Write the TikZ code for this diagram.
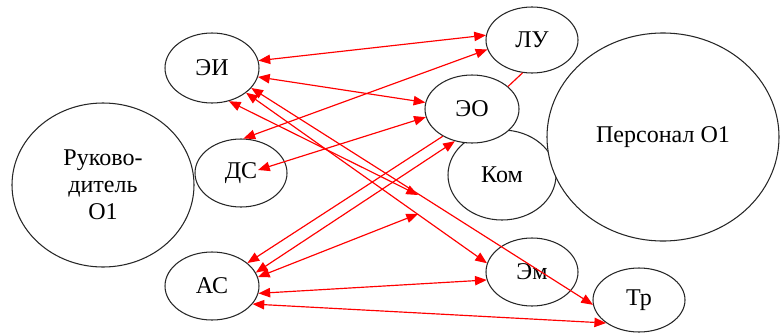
\documentclass[tikz,border=0pt]{standalone}
\usepackage{fontspec}
\setmainfont{LiberationSerif}[Extension=.ttf, UprightFont=*-Regular, BoldFont=*-Bold]
\usepackage{tikz}
\usetikzlibrary{shapes.geometric,arrows.meta}
\definecolor{linkred}{RGB}{255, 0, 0}
\tikzstyle{unit} = [ellipse, draw=black!85, line width=0.9pt, fill=white, inner sep=0pt, text=black, text centered, font=\rmfamily\fontsize{20.5}{23}\selectfont]
\tikzstyle{link} = [color=linkred, line width=1pt, >={Triangle[length=10pt,width=8pt]}, <->]

\begin{document}
\begin{tikzpicture}[x=0.03cm, y=-0.03cm]
\useasboundingbox (0,0) rectangle (784,333);

% units =============================
\node[unit, minimum width=5.46cm, minimum height=4.92cm, align=center] (ruk) at (103,185) {Руково-\\дитель\\О1};
\node[unit, minimum width=2.82cm, minimum height=2.1cm] (ei) at (212,68) {ЭИ};
\node[unit, minimum width=2.76cm, minimum height=2.04cm] (ds) at (241,173) {ДС};
\node[unit, minimum width=2.82cm, minimum height=2.04cm] (ac) at (212,286) {АС};
\node[unit, minimum width=2.76cm, minimum height=1.98cm] (lu) at (532,40) {ЛУ};
\node[unit, minimum width=3.24cm, minimum height=2.7cm] (kom) at (502,175) {Ком};
\node[unit, minimum width=2.82cm, minimum height=2.04cm] (eo) at (472,109) {ЭО};
\node[unit, minimum width=6.96cm, minimum height=6.24cm] (pers) at (663,137) {Персонал О1};
\node[unit, minimum width=2.76cm, minimum height=2.04cm] (em) at (532,272) {Эм};
\node[unit, minimum width=2.76cm, minimum height=1.92cm] (tr) at (639,300) {Тр};
\coordinate (p1) at (418,195);
\coordinate (p2) at (418,214);

% links
\path[link] (ei.9) edge (lu.174);
\path[link] (lu.192) edge (ds.86);
\path[link] (ei.349) edge (eo.172);
\path[link] (eo.190) edge ([shift={(17,-3)}]ds.center);
\path[link] (ei.297) edge (p1);
\path[link] (ei.324) edge (em.169);
\path[link] (ei.333) edge (tr.186);
\path[link] (eo.223) edge[->] (ac.33);
\draw[color=linkred, line width=1pt] (eo.32) -- (lu.254);
\path[link] (ac.17) edge (eo.242);
\path[link] (ac.11) edge (p2);
\path[link] (ac.351) edge (em.190);
\path[link] (ac.336) edge (tr.215);

\end{tikzpicture}
\end{document}
